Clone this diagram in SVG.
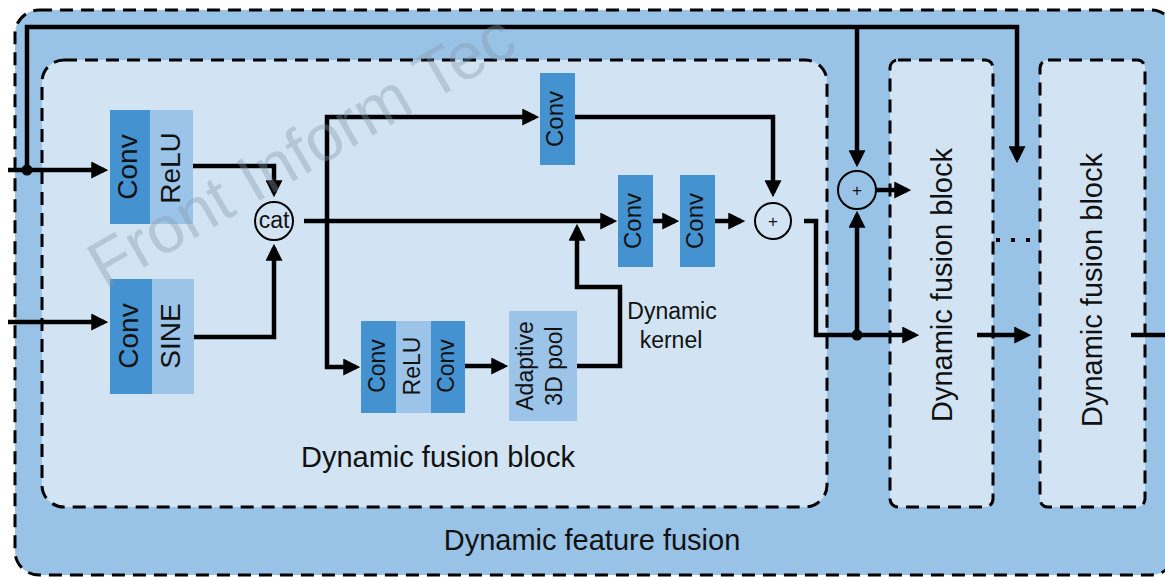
<svg xmlns="http://www.w3.org/2000/svg" width="1165" height="577" viewBox="0 0 1165 577">
<defs>
<marker id="ah" viewBox="0 0 16 16" refX="12" refY="8" markerWidth="17" markerHeight="17" markerUnits="userSpaceOnUse" orient="auto">
<path d="M0,0 L16,8 L0,16 z" fill="#000"/>
</marker>
<style>
text{font-family:"Liberation Sans",Arial,Helvetica,sans-serif;fill:#111;}
.dash{stroke:#000;stroke-width:3;stroke-dasharray:13 8;}
.outer{fill:#98c3e7;}
.inner{fill:#d2e4f3;}
.dk{fill:#4592d0;}
.lt{fill:#9bc4e8;}
.conn{fill:none;stroke:#000;stroke-width:4.5;stroke-linejoin:miter;}
.arr{marker-end:url(#ah);}
.op{fill:none;stroke:#000;stroke-width:2;}
.t28{font-size:28px;}
.t24{font-size:24px;}
.t23{font-size:23px;}
.t29{font-size:29px;}
.wm{font-size:66px;fill:#8499ad;opacity:0.38;}
</style>
</defs>

<g id="dynamic-feature-fusion">
<rect class="outer dash" x="15" y="10" width="1160" height="565" rx="24"/>
<text class="t29" x="592" y="550" text-anchor="middle">Dynamic feature fusion</text>
</g>

<g id="dynamic-fusion-block-main">
<rect class="inner dash" x="42" y="60" width="785" height="447" rx="22"/>
<text class="t29" x="438" y="467" text-anchor="middle">Dynamic fusion block</text>
</g>

<g id="dynamic-fusion-block-2">
<rect class="inner dash" x="890" y="60" width="103" height="447" rx="8"/>
<text class="t29" transform="translate(952,285) rotate(-90)" text-anchor="middle">Dynamic fusion block</text>
</g>

<g id="dynamic-fusion-block-3">
<rect class="inner dash" x="1040" y="60" width="105" height="447" rx="8"/>
<text class="t29" transform="translate(1102,290) rotate(-90)" text-anchor="middle">Dynamic fusion block</text>
</g>

<g id="ellipsis">
<rect x="996" y="238" width="4" height="4" fill="#000"/>
<rect x="1011" y="238" width="4" height="4" fill="#000"/>
<rect x="1026" y="238" width="4" height="4" fill="#000"/>
</g>

<g id="conv-relu">
<rect class="dk" x="110" y="110" width="40" height="114"/>
<rect class="lt" x="150" y="110" width="43" height="114"/>
<text class="t28" transform="translate(137,167) rotate(-90)" text-anchor="middle">Conv</text>
<text class="t28" transform="translate(180,168) rotate(-90)" text-anchor="middle">ReLU</text>
</g>

<g id="conv-sine">
<rect class="dk" x="110" y="279" width="42" height="115"/>
<rect class="lt" x="152" y="279" width="42" height="115"/>
<text class="t28" transform="translate(138,336) rotate(-90)" text-anchor="middle">Conv</text>
<text class="t28" transform="translate(180,336) rotate(-90)" text-anchor="middle">SINE</text>
</g>

<g id="cat">
<circle class="op" cx="274" cy="221" r="19"/>
<text class="t23" x="274" y="228" text-anchor="middle">cat</text>
</g>

<g id="conv-top">
<rect class="dk" x="540" y="73" width="35" height="92"/>
<text class="t24" transform="translate(563,119) rotate(-90)" text-anchor="middle">Conv</text>
</g>

<g id="conv-a">
<rect class="dk" x="618" y="175" width="35" height="92"/>
<text class="t24" transform="translate(641,221) rotate(-90)" text-anchor="middle">Conv</text>
</g>

<g id="conv-b">
<rect class="dk" x="680" y="175" width="35" height="92"/>
<text class="t24" transform="translate(703,221) rotate(-90)" text-anchor="middle">Conv</text>
</g>

<g id="conv-relu-conv">
<rect class="dk" x="361" y="321" width="35" height="92"/>
<rect class="lt" x="396" y="321" width="35" height="92"/>
<rect class="dk" x="431" y="321" width="34" height="92"/>
<text class="t23" transform="translate(385,366) rotate(-90)" text-anchor="middle">Conv</text>
<text class="t23" transform="translate(420,366) rotate(-90)" text-anchor="middle">ReLU</text>
<text class="t23" transform="translate(454,366) rotate(-90)" text-anchor="middle">Conv</text>
</g>

<g id="adaptive-pool">
<rect class="lt" x="509" y="311" width="68" height="110"/>
<text class="t23" transform="translate(533,366) rotate(-90)" text-anchor="middle">Adaptive</text>
<text class="t23" transform="translate(562,366) rotate(-90)" text-anchor="middle">3D pool</text>
</g>

<g id="dynamic-kernel-label">
<text class="t23" x="672" y="319" text-anchor="middle">Dynamic</text>
<text class="t23" x="671" y="348" text-anchor="middle">kernel</text>
</g>

<g id="add-inner">
<circle class="op" cx="773" cy="221" r="18"/>
<text x="773" y="227" font-size="17" text-anchor="middle">+</text>
</g>

<g id="add-outer">
<circle class="op" cx="857" cy="190" r="19"/>
<text x="857" y="196" font-size="17" text-anchor="middle">+</text>
</g>

<g id="connectors">
<path class="conn arr" d="M27,170 V27 H1017 V159"/>
<path class="conn arr" d="M857,27 V163"/>
<path class="conn arr" d="M8,170 H104"/>
<circle cx="27" cy="170" r="5.5" fill="#000"/>
<path class="conn arr" d="M8,322 H104"/>
<path class="conn arr" d="M193,166 H274 V193"/>
<path class="conn arr" d="M194,337 H274 V248"/>
<path class="conn arr" d="M304,221 H613"/>
<path class="conn arr" d="M327,221 V117 H535"/>
<path class="conn arr" d="M327,221 V367 H356"/>
<path class="conn arr" d="M575,117 H773 V193"/>
<path class="conn arr" d="M653,221 H675"/>
<path class="conn arr" d="M715,221 H741"/>
<path class="conn arr" d="M465,366 H504"/>
<path class="conn arr" d="M577,366 H620 V287 H577 V228"/>
<path class="conn arr" d="M804,221 H816 V335 H915"/>
<circle cx="857" cy="335" r="5.5" fill="#000"/>
<path class="conn arr" d="M857,335 V215"/>
<path class="conn arr" d="M876,190 H907"/>
<path class="conn arr" d="M977,335 H1027"/>
<path class="conn" d="M1131,335 H1167"/>
</g>

<g id="watermark">
<text class="wm" transform="translate(105,290) rotate(-30)">Front Inform Tec</text>
</g>
</svg>
